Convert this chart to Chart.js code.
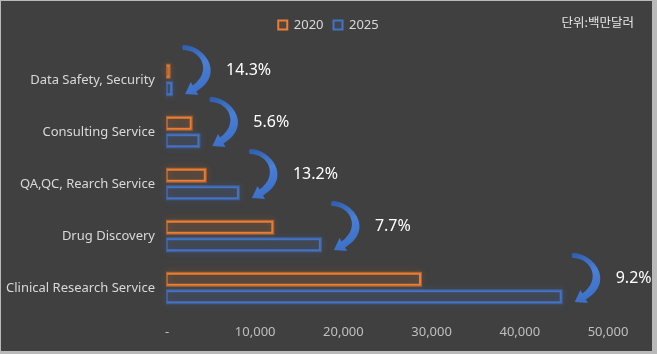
<!DOCTYPE html>
<html><head><meta charset="utf-8">
<script src="https://cdn.jsdelivr.net/npm/chart.js@4.4.1/dist/chart.umd.min.js"></script>
<style>html,body{margin:0;padding:0;background:#404040;overflow:hidden}</style>
</head><body>
<canvas id="c" width="657" height="354"></canvas>
<script>
const categories = ['Data Safety, Security', 'Consulting Service', 'QA,QC, Rearch Service', 'Drug Discovery', 'Clinical Research Service'];
const seriesNames = ['2020', '2025'];
const values2020 = [300, 2800, 4400, 12050, 28800];
const values2025 = [580, 3670, 8150, 17450, 44750];
const growthRates = ['14.3%', '5.6%', '13.2%', '7.7%', '9.2%'];
const unitLabel = '단위:백만달러';
const xMin = 0, xMax = 50000, xStep = 10000;

const ORANGE = '#ED7D31', BLUE = '#4472C4';

const bgPlugin = {
  id: 'bg',
  beforeDraw(chart) {
    const ctx = chart.ctx;
    ctx.save();
    ctx.fillStyle = '#b9b9b9';
    ctx.fillRect(0, 0, chart.width, chart.height);
    ctx.fillStyle = '#404040';
    ctx.fillRect(1, 1, chart.width - 6, chart.height - 4);
    ctx.restore();
  }
};

const glowPlugin = {
  id: 'glow',
  beforeDatasetsDraw(chart) {
    const ctx = chart.ctx;
    const glows = ['rgba(237,125,49,0.55)', 'rgba(68,114,196,0.6)'];
    chart.data.datasets.forEach((ds, di) => {
      const meta = chart.getDatasetMeta(di);
      meta.data.forEach(el => {
        const p = el.getProps(['x', 'y', 'base', 'height'], true);
        const l = Math.min(p.x, p.base), r = Math.max(p.x, p.base);
        ctx.save();
        ctx.shadowColor = glows[di];
        ctx.shadowBlur = 7;
        ctx.strokeStyle = glows[di];
        ctx.lineWidth = 2;
        ctx.strokeRect(l, p.y - p.height / 2, r - l, p.height);
        ctx.restore();
      });
    });
  }
};

function drawArrow(ctx, x0, yc) {
  ctx.save();
  ctx.translate(x0, yc);
  const g = ctx.createLinearGradient(10, -35, 30, 15);
  g.addColorStop(0, '#2d5cab');
  g.addColorStop(0.45, '#4a7fd6');
  g.addColorStop(1, '#3b6dc5');
  ctx.fillStyle = g;
  ctx.beginPath();
  ctx.moveTo(11, -35);
  ctx.bezierCurveTo(32, -35, 54, -6, 24.2, 11.5);
  ctx.lineTo(26.2, 14.9);
  ctx.lineTo(13, 14);
  ctx.lineTo(18.7, 2.1);
  ctx.lineTo(20.6, 5.5);
  ctx.bezierCurveTo(40, -8, 30, -30, 11, -30);
  ctx.quadraticCurveTo(9, -32.5, 11, -35);
  ctx.closePath();
  ctx.fill();
  ctx.restore();
}

const annotPlugin = {
  id: 'annot',
  afterDatasetsDraw(chart) {
    const ctx = chart.ctx;
    const xs = chart.scales.x, ys = chart.scales.y;
    categories.forEach((c, i) => {
      const x0 = xs.getPixelForValue(values2025[i]);
      const yc = ys.getPixelForValue(i);
      drawArrow(ctx, x0, yc);
      ctx.save();
      ctx.fillStyle = '#ffffff';
      ctx.font = '16px "Noto Sans", "Open Sans", sans-serif';
      ctx.textAlign = 'left';
      ctx.textBaseline = 'middle';
      ctx.fillText(growthRates[i], x0 + 54, yc - 10);
      ctx.restore();
    });
    ctx.save();
    ctx.fillStyle = '#e6e6e6';
    ctx.font = '12.5px "Noto Sans CJK KR", "Noto Sans", sans-serif';
    ctx.textAlign = 'right';
    ctx.textBaseline = 'middle';
    ctx.fillText(unitLabel, 634, 22);
    ctx.restore();
  }
};

new Chart(document.getElementById('c'), {
  type: 'bar',
  data: {
    labels: categories,
    datasets: [
      { label: seriesNames[0], data: values2020, backgroundColor: 'rgba(237,125,49,0.10)', borderColor: ORANGE, borderWidth: 2 },
      { label: seriesNames[1], data: values2025, backgroundColor: 'rgba(68,114,196,0.12)', borderColor: BLUE, borderWidth: 2 }
    ]
  },
  options: {
    indexAxis: 'y',
    responsive: false,
    animation: false,
    categoryPercentage: 0.673,
    barPercentage: 0.743,
    layout: { padding: { top: 8.5, left: 0, right: 0, bottom: 0 } },
    plugins: {
      legend: {
        position: 'top',
        weight: 1000,
        labels: {
          boxWidth: 9, boxHeight: 9, padding: 10,
          color: '#d9d9d9',
          font: { family: '"Noto Sans", "Open Sans", sans-serif', size: 13 }
        }
      },
      title: { display: true, text: '', weight: 500, position: 'top', font: { size: 10, lineHeight: 1 }, padding: { top: 2.5, bottom: 0 } },
      tooltip: { enabled: false }
    },
    scales: {
      x: {
        type: 'linear', min: xMin, max: xMax,
        grid: { display: false, drawTicks: false },
        border: { display: false },
        ticks: {
          stepSize: xStep, padding: 10, color: '#bfbfbf',
          font: { family: '"Noto Sans", "Open Sans", sans-serif', size: 13 },
          callback: v => v === 0 ? '-' : v.toLocaleString('en-US')
        },
        afterFit: s => { s.height = 40; }
      },
      y: {
        type: 'category',
        grid: { display: false, drawTicks: false },
        border: { display: false },
        ticks: { padding: 12, color: '#d9d9d9', font: { family: '"Noto Sans", "Open Sans", sans-serif', size: 13 } },
        afterFit: s => { s.width = 167; }
      },
      yr: {
        type: 'category', axis: 'y', position: 'right', display: true,
        grid: { display: false, drawTicks: false },
        border: { display: false },
        ticks: { display: false },
        afterFit: s => { s.width = 49; }
      }
    }
  },
  plugins: [bgPlugin, glowPlugin, annotPlugin]
});
</script>
</body></html>
